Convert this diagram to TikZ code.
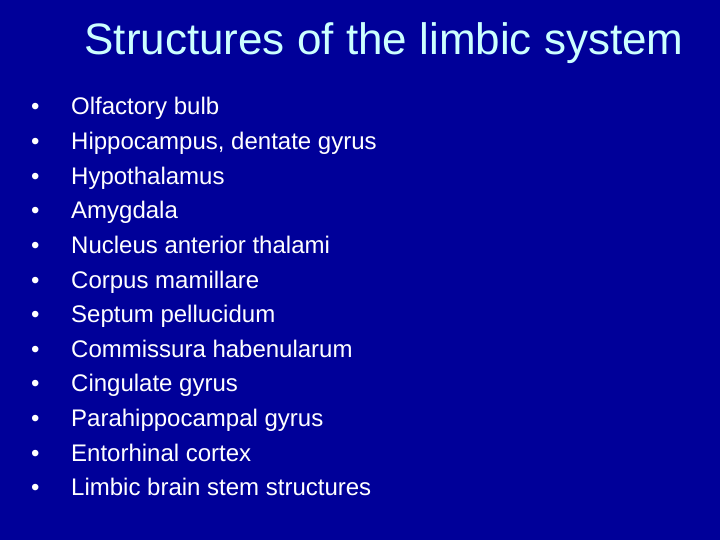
\documentclass[tikz,border=0pt]{standalone}
\usepackage{fontspec}
\setmainfont{Liberation Sans}
\definecolor{slidebg}{RGB}{0,0,153}
\definecolor{titlecol}{RGB}{204,255,255}
\begin{document}
\begin{tikzpicture}[x=1pt,y=-1pt,
    item/.style={anchor=base west, text=white, font=\fontsize{24}{28}\selectfont, inner sep=0pt}]
    % Hintergrund
    \fill[slidebg] (0,0) rectangle (720,540);
    \useasboundingbox (0,0) rectangle (720,540);

    % Titel
    \node[text=titlecol, font=\fontsize{44}{50}\selectfont, anchor=base] (title) at (384,55) {Structures of the limbic system};

    % Aufzählung
    \foreach \txt [count=\i] in {Olfactory bulb, {Hippocampus, dentate gyrus}, Hypothalamus, Amygdala,
        Nucleus anterior thalami, Corpus mamillare, Septum pellucidum, Commissura habenularum,
        Cingulate gyrus, Parahippocampal gyrus, Entorhinal cortex, Limbic brain stem structures} {
        \node[item] (bullet\i) at (31,{115+34.6*(\i-1)}) {•};
        \node[item] (item\i) at (71,{115+34.6*(\i-1)}) {\txt};
    }
\end{tikzpicture}
\end{document}
